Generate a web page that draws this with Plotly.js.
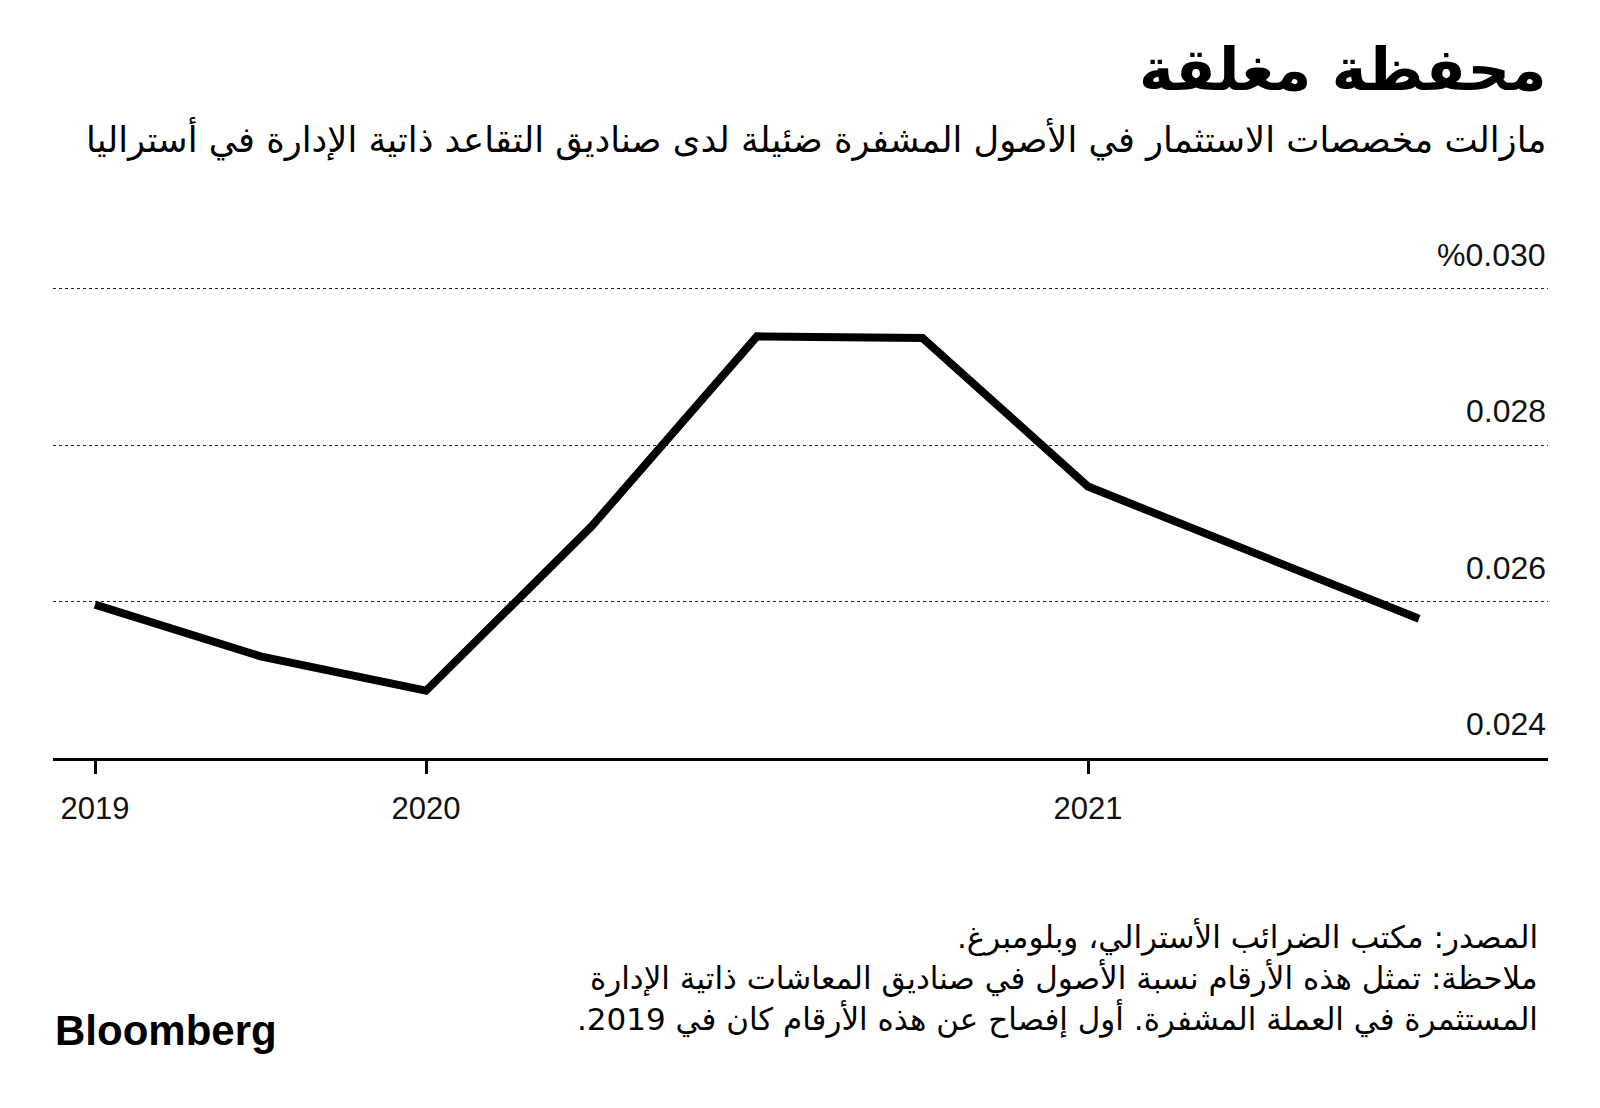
<!DOCTYPE html>
<html>
<head>
<meta charset="utf-8">
<script src="https://cdn.plot.ly/plotly-3.0.1.min.js"></script>
<style>
html,body{margin:0;padding:0;background:#fff;}
#chart{width:1600px;height:1108px;}
</style>
</head>
<body>
<div id="chart"></div>
<script>
// ---- data ----
var periods = [0, 1, 2, 3, 4, 5, 6, 8];
var shareValues = [0.02596, 0.02530, 0.02486, 0.02696, 0.02939, 0.02937, 0.02747, 0.02578];
var xTickVals = [0, 2, 6];
var xTickText = ['2019', '2020', '2021'];
var yTickVals = [0.024, 0.026, 0.028, 0.030];
var yTickText = ['0.024', '0.026', '0.028', '%0.030'];

var titleText = 'محفظة مغلقة';
var subtitleText = 'مازالت مخصصات الاستثمار في الأصول المشفرة ضئيلة لدى صناديق التقاعد ذاتية الإدارة في أستراليا';
var noteLines = [
  'المصدر: مكتب الضرائب الأسترالي، وبلومبرغ.\u200F',
  'ملاحظة: تمثل هذه الأرقام نسبة الأصول في صناديق المعاشات ذاتية الإدارة',
  'المستثمرة في العملة المشفرة. أول إفصاح عن هذه الأرقام كان في 2019.\u200F'
];

// ---- layout helpers ----
var W = 1600, H = 1108;
var L = 53, R = 1548, T = 273, B = 758;
function px(x){ return (x - L) / (R - L); }
function py(y){ return (B - y) / (B - T); }

var arFont = 'DejaVu Sans, sans-serif';
var latFont = 'Liberation Sans, Arial, sans-serif';

var annotations = [];
annotations.push({xref:'paper', yref:'paper', x:px(1548), y:py(70), xanchor:'right', yanchor:'middle',
  text:'<b>' + titleText + '</b>', showarrow:false, font:{family:arFont, size:59, color:'#000'}});
annotations.push({xref:'paper', yref:'paper', x:px(1548), y:py(139), xanchor:'right', yanchor:'middle',
  text:subtitleText, showarrow:false, font:{family:arFont, size:35.3, color:'#000'}});
var noteY = [937, 978, 1019];
noteLines.forEach(function(t, i){
  annotations.push({xref:'paper', yref:'paper', x:px(1540), y:py(noteY[i]), xanchor:'right', yanchor:'middle',
    text:t, showarrow:false, font:{family:arFont, size:31, color:'#000'}});
});
annotations.push({xref:'paper', yref:'paper', x:0, y:py(1030), xanchor:'left', yanchor:'middle',
  text:'<b>Bloomberg</b>', showarrow:false, font:{family:latFont, size:42, color:'#000'}});
yTickVals.forEach(function(v, i){
  annotations.push({xref:'paper', yref:'y', x:1, y:v, xanchor:'right', yanchor:'bottom', yshift:14,
    text:yTickText[i], showarrow:false, font:{family:latFont, size:32, color:'#111'}});
});

var trace = {
  x: periods, y: shareValues, type:'scatter', mode:'lines',
  line:{color:'#000', width:8, shape:'linear'},
  hoverinfo:'skip'
};

var layout = {
  width: W, height: H,
  margin:{l:L, r:W - R, t:T, b:H - B, pad:0},
  paper_bgcolor:'#fff', plot_bgcolor:'#fff',
  showlegend:false,
  xaxis:{
    range:[(L - 95) / 165.5, 8 + (R - 1419) / 165.5],
    tickmode:'array', tickvals:xTickVals, ticktext:xTickText,
    showgrid:false, zeroline:false,
    showline:true, linecolor:'#000', linewidth:3,
    ticks:'outside', ticklen:13, tickwidth:3, tickcolor:'#000',
    ticklabelstandoff:8,
    tickfont:{family:latFont, size:31, color:'#111'}
  },
  yaxis:{
    range:[0.024, 0.0302],
    tickmode:'array', tickvals:yTickVals,
    showticklabels:false, ticks:'',
    showgrid:true, gridcolor:'#222', gridwidth:1.2, griddash:'dot',
    zeroline:false, showline:false
  },
  annotations: annotations
};

Plotly.newPlot('chart', [trace], layout, {displayModeBar:false, staticPlot:true});
</script>
</body>
</html>
